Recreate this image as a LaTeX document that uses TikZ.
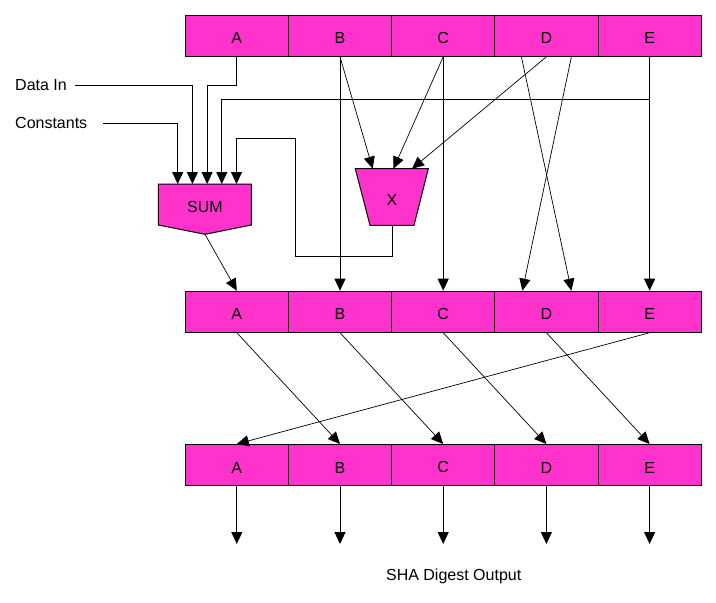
\documentclass[tikz,border=0pt]{standalone}
\usepackage{fontspec}
\setmainfont{Liberation Sans}
\usetikzlibrary{arrows.meta}
\definecolor{regpink}{RGB}{255,51,204}
\begin{document}
\begin{tikzpicture}[x=1pt, y=-1pt, font=\fontsize{16}{19}\selectfont,
		cell/.style={draw=black, fill=regpink, line width=1pt, minimum width=103.2pt, minimum height=41pt, inner sep=0pt, text height=16pt},
		wire/.style={line width=1pt},
		arr/.style={line width=1pt, -{Triangle[width=11pt,length=12pt]}},
		thinarr/.style={line width=0.7pt, -{Triangle[width=11pt,length=12pt]}}]
		\useasboundingbox (0,0) rectangle (716,603);
		% the three registers
		\foreach \row/\y in {t/35.8, m/311.7, b/465} {
			\foreach \lbl [count=\i from 0] in {A,B,C,D,E} {
				\node [cell] (\row\lbl) at (236.8+103.2*\i, \y) {\lbl};
			}
		}
		% SUM block
		\draw [wire, fill=regpink] (158.3,184) -- (251.3,184) -- (251.3,225) -- (205,234.3) -- (158.3,225) -- cycle;
		\node (sum) at (205,207) {SUM};
		\coordinate (sumout) at (205,234.3);
		\foreach \k in {1,...,5}
			\coordinate (sumin\k) at (163+14.7*\k,184);
		% X block
		\draw [wire, fill=regpink] (355.3,168.7) -- (428.3,168.7) -- (414,225.3) -- (370,225.3) -- cycle;
		\node (xop) at (392,200) {X};
		\coordinate (xout) at (392,225.3);
		\coordinate (xin1) at (372.7,168.7);
		\coordinate (xin2) at (393.5,168.7);
		\coordinate (xin3) at (412,168.7);
		% labels
		\node [anchor=west, inner sep=0pt] (datain) at (15,85) {Data In};
		\node [anchor=west, inner sep=0pt] (consts) at (15,123) {Constants};
		\node (digest) at (453.7,576) {SHA Digest Output};
		% inputs of SUM
		\draw [arr] (consts.east) ++(16,0) -| (sumin1);
		\draw [arr] (datain.east) ++(8,0) -| (sumin2);
		\draw [arr] (tA.south) -- ++(0,28.7) -| (sumin3);
		\coordinate (ejoin) at (tE.south |- 0,99);
		\draw [arr] (ejoin) -| (sumin4);
		\draw [arr] (xout) -- ++(0,31) -| (295.7,138.7) -| (sumin5);
		% inputs of X
		\draw [thinarr] (tB.south) -- (xin1);
		\draw [thinarr] (tC.south) -- (xin2);
		\draw [thinarr] (tD.south) -- (xin3);
		% first register to second
		\draw [thinarr] (sumout) -- (mA.north);
		\draw [arr] (tB.south) -- (mB.north);
		\draw [arr] (tC.south) -- (mC.north);
		\draw [thinarr] ([xshift=-25pt]tD.south) -- ([xshift=25pt]mD.north);
		\draw [thinarr] ([xshift=25pt]tD.south) -- ([xshift=-24pt]mD.north);
		\draw [arr] (tE.south) -- (mE.north);
		% second register to third
		\foreach \a/\b in {A/B, B/C, C/D, D/E, E/A}
			\draw [thinarr] (m\a.south) -- (b\b.north);
		% outputs
		\foreach \lbl in {A,B,C,D,E}
			\draw [arr] (b\lbl.south) -- ++(0,58);
\end{tikzpicture}
\end{document}
